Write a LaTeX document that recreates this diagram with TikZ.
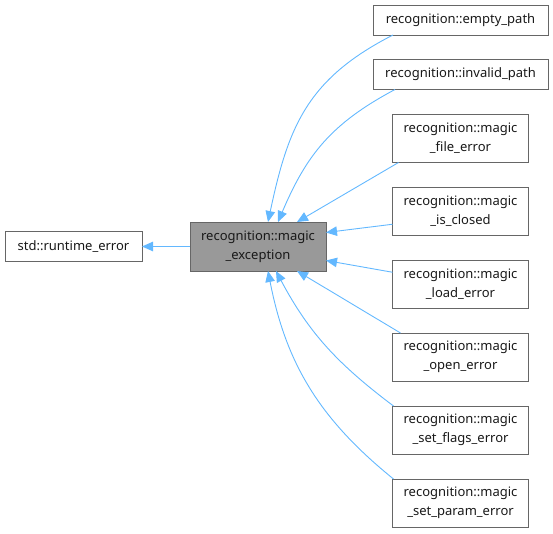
\documentclass[tikz,border=0pt]{standalone}
\usepackage{fontspec}
\newfontfamily\dxfont{Noto Sans}
\usepackage{tikz}
\usetikzlibrary{arrows.meta, positioning}
\definecolor{edgeblue}{HTML}{63B8FF}
\definecolor{boxgray}{HTML}{666666}
\definecolor{basefill}{HTML}{999999}

\begin{document}
\begin{tikzpicture}[
			x=1pt, y=1pt,
			node distance=24.5pt and 48pt,
			classbox/.style={rectangle, draw=boxgray, fill=white, align=center, minimum width=136pt, minimum height=48.5pt, inner sep=2pt, outer sep=0pt, line width=0.9pt, font=\dxfont\fontsize{13}{19}\selectfont, text=black!90},
			widebox/.style={classbox, minimum width=175pt, minimum height=30pt},
			basebox/.style={classbox, fill=basefill, minimum height=49pt},
			arrow/.style={draw=edgeblue, line width=0.9pt, -{Triangle[length=11pt, width=9.5pt]}}
			]
			\useasboundingbox (0,0) rectangle (553,-533);
			
			% Clase base
			\node (me) [basebox] at (258,-246.5) {recognition::magic\\\_exception};
			\node (rte) [classbox, minimum width=137pt, minimum height=30pt, left=of me] {std::runtime\_error};
			
			% Clases derivadas
			\node (ep) [widebox] at (460.5,-20) {recognition::empty\_path};
			\node (ip) [widebox, below=of ep] {recognition::invalid\_path};
			\node (fe) [classbox, below=of ip] {recognition::magic\\\_file\_error};
			\node (ic) [classbox, below=of fe] {recognition::magic\\\_is\_closed};
			\node (le) [classbox, below=of ic] {recognition::magic\\\_load\_error};
			\node (oe) [classbox, below=of le] {recognition::magic\\\_open\_error};
			\node (sf) [classbox, below=of oe] {recognition::magic\\\_set\_flags\_error};
			\node (sp) [classbox, below=of sf] {recognition::magic\\\_set\_param\_error};
			
			% Herencia
			\draw [arrow] (me) -- (rte);
			\draw [arrow] ([xshift=20]ep.south west) to[out=207, in=78, looseness=1.1] ([xshift=10]me.north);
			\draw [arrow] ([xshift=22]ip.south west) to[out=208, in=67, looseness=1.05] ([xshift=20]me.north);
			\draw [arrow] ([xshift=6]fe.south west) -- ([xshift=39]me.north);
			\draw [arrow] ([yshift=-13]ic.west) -- ([yshift=14]me.east);
			\draw [arrow] ([yshift=12]le.west) -- ([yshift=-14]me.east);
			\draw [arrow] ([xshift=8]oe.north west) -- ([xshift=39]me.south);
			\draw [arrow] ([xshift=1]sf.north west) to[out=143, in=298] ([xshift=18]me.south);
			\draw [arrow] ([xshift=1]sp.north west) to[out=141, in=281] ([xshift=10]me.south);
			
		\end{tikzpicture}
\end{document}
